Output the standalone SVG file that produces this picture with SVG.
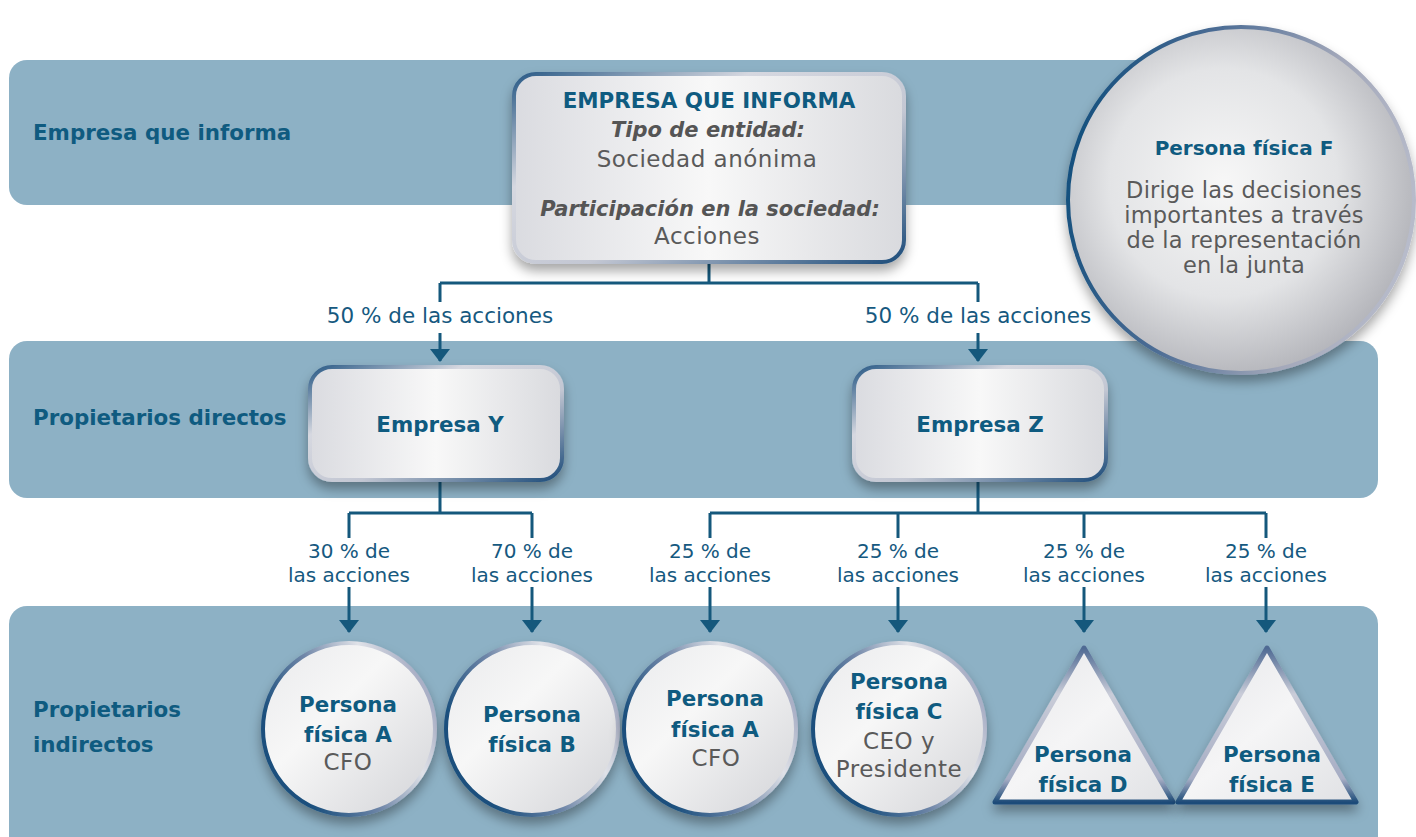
<svg xmlns="http://www.w3.org/2000/svg" width="1416" height="837" viewBox="0 0 1416 837">
<style>
.band{fill:#8db1c5}
.b{font-family:"DejaVu Sans",sans-serif;font-weight:bold;font-size:21.4px;fill:#0f5b80}
.bc{font-family:"DejaVu Sans",sans-serif;font-weight:bold;font-size:21.4px;fill:#0f5b80;text-anchor:middle}
.g{font-family:"DejaVu Sans",sans-serif;font-size:23px;fill:#5a5a5a;text-anchor:middle;letter-spacing:0.5px}
.gi{font-family:"DejaVu Sans",sans-serif;font-weight:bold;font-style:italic;font-size:21px;fill:#555;text-anchor:middle}
.p{font-family:"DejaVu Sans",sans-serif;font-size:20px;fill:#16597f;text-anchor:middle}
.con{stroke:#15587c;stroke-width:3;fill:none}
.arr{stroke:#15587c;stroke-width:3;fill:none;marker-end:url(#ah)}
.box{fill:url(#nf);stroke:url(#ns);stroke-width:4;filter:url(#sh)}
.circ{fill:url(#cf);stroke:url(#cs);stroke-width:4;filter:url(#sh)}
.tri{fill:url(#tf);stroke:url(#ts);stroke-width:5;stroke-linejoin:round;filter:url(#sh)}
</style>
<defs>
<linearGradient id="nf" x1="0" y1="0" x2="1" y2="0">
<stop offset="0" stop-color="#dadbe0"/><stop offset="0.5" stop-color="#f8f8f8"/><stop offset="1" stop-color="#d9dade"/>
</linearGradient>
<linearGradient id="ns" x1="0" y1="0" x2="1" y2="1">
<stop offset="0" stop-color="#2a5a86"/><stop offset="0.3" stop-color="#d6d8e0"/><stop offset="0.6" stop-color="#c3c7d3"/><stop offset="1" stop-color="#1d4c7a"/>
</linearGradient>
<linearGradient id="cf" x1="0" y1="0" x2="1" y2="1">
<stop offset="0" stop-color="#e9eaec"/><stop offset="0.4" stop-color="#f7f7f7"/><stop offset="1" stop-color="#d2d3d7"/>
</linearGradient>
<linearGradient id="cs" x1="0.1" y1="0.6" x2="0.9" y2="0.2">
<stop offset="0" stop-color="#1a4f7d"/><stop offset="0.4" stop-color="#6f86a8"/><stop offset="0.75" stop-color="#e0e2e8"/><stop offset="1" stop-color="#aab0c6"/>
</linearGradient>
<linearGradient id="tf" x1="0" y1="0" x2="1" y2="1">
<stop offset="0" stop-color="#e4e5e8"/><stop offset="0.5" stop-color="#f5f5f6"/><stop offset="1" stop-color="#e0e1e4"/>
</linearGradient>
<linearGradient id="ts" x1="0" y1="0" x2="0" y2="1">
<stop offset="0" stop-color="#4f6a93"/><stop offset="0.3" stop-color="#c9ccd8"/><stop offset="0.85" stop-color="#a6adc4"/><stop offset="1" stop-color="#1e4c79"/>
</linearGradient>
<radialGradient id="ff" cx="0.45" cy="0.45" r="0.6">
<stop offset="0" stop-color="#f7f7f7"/><stop offset="0.55" stop-color="#e3e4e6"/><stop offset="1" stop-color="#aeafb5"/>
</radialGradient>
<linearGradient id="fs" x1="0" y1="0.4" x2="1" y2="0.6">
<stop offset="0" stop-color="#15507e"/><stop offset="0.35" stop-color="#4d6d95"/><stop offset="0.7" stop-color="#a3a8ba"/><stop offset="1" stop-color="#b8bccb"/>
</linearGradient>
<filter id="sh" x="-20%" y="-20%" width="140%" height="150%">
<feDropShadow dx="0" dy="7" stdDeviation="6" flood-color="#000" flood-opacity="0.35"/>
</filter>
<marker id="ah" markerUnits="userSpaceOnUse" markerWidth="14" markerHeight="22" refX="12" refY="10" orient="auto">
<path d="M0,0 L13,10 L0,20 Z" fill="#15587c"/>
</marker>
</defs>
<rect width="1416" height="837" fill="#ffffff"/>
<g id="bands">
<rect class="band" x="9" y="60" width="1200" height="145" rx="18"/>
<rect class="band" x="9" y="341" width="1369" height="157" rx="18"/>
<rect class="band" x="9" y="606" width="1369" height="260" rx="18"/>
<text class="b" x="33" y="140">Empresa que informa</text>
<text class="b" x="33" y="425">Propietarios directos</text>
<text class="b" x="33" y="717">Propietarios</text>
<text class="b" x="33" y="752">indirectos</text>
</g>
<g id="connectors">
<path class="con" d="M709 262 V283 M440 283 H978 M440 283 V302 M978 283 V302"/>
<path class="arr" d="M440 333 V361"/>
<path class="arr" d="M978 333 V361"/>
<path class="con" d="M440 480 V513 M349 513 H532 M349 513 V538 M532 513 V538"/>
<path class="con" d="M978 480 V513 M710 513 H1266 M710 513 V538 M898 513 V538 M1084 513 V538 M1266 513 V538"/>
<path class="arr" d="M349 587 V632"/>
<path class="arr" d="M532 587 V632"/>
<path class="arr" d="M710 587 V632"/>
<path class="arr" d="M898 587 V632"/>
<path class="arr" d="M1084 587 V632"/>
<path class="arr" d="M1266 587 V632"/>
<text class="p" x="440" y="323" style="font-size:21.5px">50 % de las acciones</text>
<text class="p" x="978" y="323" style="font-size:21.5px">50 % de las acciones</text>
<text class="p" x="349" y="558">30 % de</text><text class="p" x="349" y="582">las acciones</text>
<text class="p" x="532" y="558">70 % de</text><text class="p" x="532" y="582">las acciones</text>
<text class="p" x="710" y="558">25 % de</text><text class="p" x="710" y="582">las acciones</text>
<text class="p" x="898" y="558">25 % de</text><text class="p" x="898" y="582">las acciones</text>
<text class="p" x="1084" y="558">25 % de</text><text class="p" x="1084" y="582">las acciones</text>
<text class="p" x="1266" y="558">25 % de</text><text class="p" x="1266" y="582">las acciones</text>
</g>
<g id="empresa-informa">
<rect class="box" x="514" y="74" width="390" height="188" rx="22"/>
<text class="bc" x="709" y="108">EMPRESA QUE INFORMA</text>
<text class="gi" x="708" y="137">Tipo de entidad:</text>
<text class="g" x="707" y="167">Sociedad anónima</text>
<text class="gi" x="710" y="216">Participación en la sociedad:</text>
<text class="g" x="707" y="244">Acciones</text>
</g>
<g id="persona-f">
<circle cx="1241" cy="200" r="173" fill="url(#ff)" stroke="url(#fs)" stroke-width="4" filter="url(#sh)"/>
<text class="bc" x="1244" y="155" style="font-size:20px">Persona física F</text>
<text class="g" x="1244" y="198" style="font-size:22.5px;letter-spacing:0.2px">Dirige las decisiones</text>
<text class="g" x="1244" y="223" style="font-size:22.5px;letter-spacing:0.2px">importantes a través</text>
<text class="g" x="1244" y="248" style="font-size:22.5px;letter-spacing:0.2px">de la representación</text>
<text class="g" x="1244" y="273" style="font-size:22.5px;letter-spacing:0.2px">en la junta</text>
</g>
<g id="empresa-y">
<rect class="box" x="310" y="367" width="252" height="113" rx="22"/>
<text class="bc" x="440" y="432">Empresa Y</text>
</g>
<g id="empresa-z">
<rect class="box" x="854" y="367" width="252" height="113" rx="22"/>
<text class="bc" x="980" y="432">Empresa Z</text>
</g>
<g id="persona-a1">
<circle class="circ" cx="349" cy="729" r="86"/>
<text class="bc" x="348" y="712">Persona</text>
<text class="bc" x="348" y="742">física A</text>
<text class="g" x="348" y="770">CFO</text>
</g>
<g id="persona-b">
<circle class="circ" cx="532" cy="729" r="86"/>
<text class="bc" x="532" y="722">Persona</text>
<text class="bc" x="532" y="752">física B</text>
</g>
<g id="persona-a2">
<circle class="circ" cx="710" cy="729" r="86"/>
<text class="bc" x="715" y="706">Persona</text>
<text class="bc" x="715" y="737">física A</text>
<text class="g" x="716" y="766">CFO</text>
</g>
<g id="persona-c">
<circle class="circ" cx="899" cy="729" r="86"/>
<text class="bc" x="899" y="689">Persona</text>
<text class="bc" x="899" y="719">física C</text>
<text class="g" x="899" y="749">CEO y</text>
<text class="g" x="899" y="777">Presidente</text>
</g>
<g id="persona-d">
<path class="tri" d="M1084 648 L1173 802 L995 802 Z"/>
<text class="bc" x="1083" y="762">Persona</text>
<text class="bc" x="1083" y="792">física D</text>
</g>
<g id="persona-e">
<path class="tri" d="M1267 648 L1356 802 L1178 802 Z"/>
<text class="bc" x="1272" y="762">Persona</text>
<text class="bc" x="1272" y="792">física E</text>
</g>
</svg>
